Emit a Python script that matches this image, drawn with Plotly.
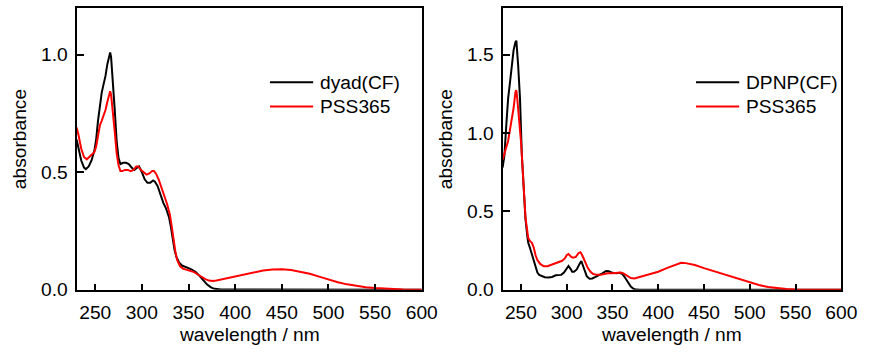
import plotly.graph_objects as go

# ---------------- data ----------------
# Left panel: dyad(CF) and PSS365
dyad_wl = [230, 232, 235, 238, 240, 243, 246, 249, 251, 253, 255, 257, 259, 261, 263, 265, 266, 267, 269, 271,
           273, 275, 277, 280, 283, 286, 289, 292, 295, 297, 300, 303, 306, 309, 312, 314, 317, 320, 323, 326,
           329, 331, 333, 335, 337, 340, 343, 346, 350, 354, 358, 362, 366, 370, 374, 378, 385, 400, 450, 500,
           550, 600]
dyad_abs = [0.64, 0.60, 0.55, 0.52, 0.513, 0.525, 0.55, 0.59, 0.64, 0.72, 0.79, 0.84, 0.875, 0.91, 0.96, 1.005,
            1.01, 0.99, 0.89, 0.76, 0.63, 0.56, 0.535, 0.54, 0.54, 0.535, 0.52, 0.51, 0.52, 0.525, 0.50, 0.47,
            0.455, 0.455, 0.465, 0.46, 0.44, 0.40, 0.37, 0.345, 0.31, 0.27, 0.22, 0.17, 0.14, 0.115, 0.103, 0.097,
            0.092, 0.085, 0.074, 0.058, 0.04, 0.022, 0.01, 0.004, 0.001, 0.001, 0.002, 0.001, 0.0, 0.0]

pss1_wl = [230, 232, 235, 238, 241, 244, 247, 249, 251, 253, 255, 257, 259, 261, 263, 265, 266, 267, 269, 271,
           273, 275, 277, 279, 282, 285, 288, 291, 294, 296, 299, 302, 305, 308, 311, 313, 315, 318, 321, 324,
           327, 330, 332, 334, 336, 338, 341, 344, 348, 352, 356, 360, 364, 368, 372, 376, 380, 390, 400, 410,
           420, 430, 440, 450, 460, 470, 480, 490, 500, 510, 520, 530, 540, 550, 560, 570, 580, 590, 600]
pss1_abs = [0.69, 0.66, 0.60, 0.565, 0.555, 0.565, 0.575, 0.585, 0.61, 0.66, 0.70, 0.72, 0.74, 0.765, 0.80, 0.84,
            0.845, 0.83, 0.76, 0.67, 0.58, 0.53, 0.505, 0.505, 0.51, 0.51, 0.505, 0.51, 0.525, 0.525, 0.51, 0.50,
            0.49, 0.495, 0.505, 0.505, 0.495, 0.47, 0.43, 0.40, 0.365, 0.32, 0.27, 0.21, 0.16, 0.125, 0.10, 0.09,
            0.085, 0.08, 0.075, 0.065, 0.055, 0.045, 0.039, 0.037, 0.039, 0.048, 0.058, 0.067, 0.075, 0.082,
            0.086, 0.087, 0.084, 0.077, 0.068, 0.056, 0.043, 0.032, 0.023, 0.016, 0.011, 0.007, 0.004, 0.002,
            0.001, 0.0005, 0.0]

# Right panel: DPNP(CF) and PSS365
dpnp_wl = [230, 232, 234, 236, 238, 240, 242, 244, 245, 247, 249, 251, 253, 255, 257, 258, 260, 263, 266, 268,
           270, 273, 276, 280, 284, 288, 291, 294, 297, 300, 302, 304, 306, 308, 311, 314, 316, 318, 320, 322,
           325, 328, 331, 335, 339, 343, 346, 350, 354, 358, 361, 364, 367, 370, 373, 376, 380, 400, 600]
dpnp_abs = [0.78, 0.86, 1.05, 1.22, 1.32, 1.45, 1.53, 1.58, 1.59, 1.43, 1.22, 0.86, 0.62, 0.45, 0.34, 0.30, 0.265,
            0.21, 0.14, 0.11, 0.095, 0.085, 0.08, 0.078, 0.082, 0.092, 0.095, 0.095, 0.11, 0.14, 0.152, 0.135,
            0.115, 0.115, 0.13, 0.165, 0.183, 0.15, 0.11, 0.085, 0.07, 0.072, 0.08, 0.09, 0.105, 0.12, 0.118,
            0.108, 0.105, 0.108, 0.10, 0.075, 0.045, 0.02, 0.006, 0.001, 0.0, 0.0, 0.0]

pss2_wl = [230, 232, 234, 236, 238, 240, 242, 244, 245, 246, 248, 250, 251, 253, 255, 258, 260, 262, 264, 266,
           268, 271, 275, 279, 283, 287, 291, 295, 298, 300, 302, 305, 307, 310, 313, 315, 317, 320, 323, 326,
           329, 333, 337, 341, 345, 350, 355, 359, 362, 366, 370, 374, 378, 385, 390, 400, 410, 420, 425, 430,
           440, 450, 460, 470, 480, 490, 500, 510, 520, 530, 540, 550, 560, 580, 600]
pss2_abs = [0.83, 0.87, 0.91, 0.95, 1.02, 1.08, 1.16, 1.26, 1.275, 1.22, 1.10, 0.95, 0.86, 0.62, 0.46, 0.33, 0.31,
            0.30, 0.27, 0.22, 0.19, 0.165, 0.15, 0.15, 0.16, 0.17, 0.175, 0.185, 0.20, 0.22, 0.228, 0.21, 0.205,
            0.21, 0.235, 0.24, 0.22, 0.18, 0.14, 0.115, 0.10, 0.095, 0.095, 0.10, 0.105, 0.105, 0.108, 0.11,
            0.105, 0.09, 0.075, 0.072, 0.078, 0.09, 0.10, 0.115, 0.14, 0.162, 0.172, 0.17, 0.158, 0.138, 0.12,
            0.10, 0.08, 0.062, 0.046, 0.03, 0.018, 0.01, 0.005, 0.002, 0.001, 0.0, 0.0]

x_ticks = [250, 300, 350, 400, 450, 500, 550, 600]
left_y_ticks = [0.0, 0.5, 1.0]
right_y_ticks = [0.0, 0.5, 1.0, 1.5]
left_names = ["dyad(CF)", "PSS365"]
right_names = ["DPNP(CF)", "PSS365"]
colors = ["#000000", "#ff0000"]
x_title = "wavelength / nm"
y_title = "absorbance"

# ---------------- figure ----------------
FONT = "Liberation Sans, Arial, sans-serif"
FS = 19.2
W, H = 873, 356

fig = go.Figure()
fig.add_trace(go.Scatter(x=dyad_wl, y=dyad_abs, mode="lines", name=left_names[0],
                         line=dict(color=colors[0], width=2), xaxis="x", yaxis="y", showlegend=False))
fig.add_trace(go.Scatter(x=pss1_wl, y=pss1_abs, mode="lines", name=left_names[1],
                         line=dict(color=colors[1], width=2), xaxis="x", yaxis="y", showlegend=False))
fig.add_trace(go.Scatter(x=dpnp_wl, y=dpnp_abs, mode="lines", name=right_names[0],
                         line=dict(color=colors[0], width=2), xaxis="x2", yaxis="y2", showlegend=False))
fig.add_trace(go.Scatter(x=pss2_wl, y=pss2_abs, mode="lines", name=right_names[1],
                         line=dict(color=colors[1], width=2), xaxis="x2", yaxis="y2", showlegend=False))

# plot-area geometry in page pixels
ydom = [1 - 299 / H, 1 - 8 / H]
xdom1 = [78 / W, 429.6 / W]
xdom2 = [512 / W, 857 / W]

def xaxis(dom, anchor):
    return dict(domain=dom, anchor=anchor, range=[230, 600], tickvals=x_ticks,
                ticks="inside", ticklen=6, tickwidth=1.5, tickcolor="black",
                showline=True, linewidth=2, linecolor="black", mirror=True,
                showgrid=False, zeroline=False, ticklabelstandoff=4,
                tickfont=dict(family=FONT, size=FS, color="black"))

def yaxis(rng, ticks, anchor):
    return dict(domain=ydom, anchor=anchor, range=rng, tickvals=ticks, tickformat=".1f",
                ticks="inside", ticklen=7, tickwidth=1.5, tickcolor="black",
                showline=True, linewidth=2, linecolor="black", mirror=True,
                showgrid=False, zeroline=False, ticklabelstandoff=3,
                tickfont=dict(family=FONT, size=FS, color="black"))

fig.update_layout(
    width=W, height=H, margin=dict(l=0, r=0, t=0, b=0, pad=0),
    paper_bgcolor="white", plot_bgcolor="white",
    xaxis=xaxis(xdom1, "y"), yaxis=yaxis([0, 1.2], left_y_ticks, "x"),
    xaxis2=xaxis(xdom2, "y2"), yaxis2=yaxis([0, 1.8], right_y_ticks, "x2"),
    showlegend=False,
)

# axis titles and legends, per panel
panels = [(xdom1, left_names), (xdom2, right_names)]
for dom, names in panels:
    left_px = dom[0] * W
    fig.add_annotation(text=y_title, x=(left_px - 58) / W, y=1 - 144 / H, xref="paper", yref="paper",
                       textangle=-90, showarrow=False, xanchor="center", yanchor="middle",
                       font=dict(family=FONT, size=FS, color="black"))
    fig.add_annotation(text=x_title, x=(dom[0] + dom[1]) / 2, y=1 - 345.5 / H, xref="paper", yref="paper",
                       showarrow=False, xanchor="center", yanchor="middle",
                       font=dict(family=FONT, size=FS, color="black"))
    for i, (nm, col) in enumerate(zip(names, colors)):
        yc = 1 - (85 + 25 * i) / H
        fig.add_shape(type="line", xref="paper", yref="paper",
                      x0=(left_px + 197) / W, x1=(left_px + 241) / W, y0=yc, y1=yc,
                      line=dict(color=col, width=2))
        fig.add_annotation(text=nm, x=(left_px + 246) / W, y=yc, xref="paper", yref="paper",
                           showarrow=False, xanchor="left", yanchor="middle",
                           font=dict(family=FONT, size=FS, color="black"))

fig.write_html("out.html")
